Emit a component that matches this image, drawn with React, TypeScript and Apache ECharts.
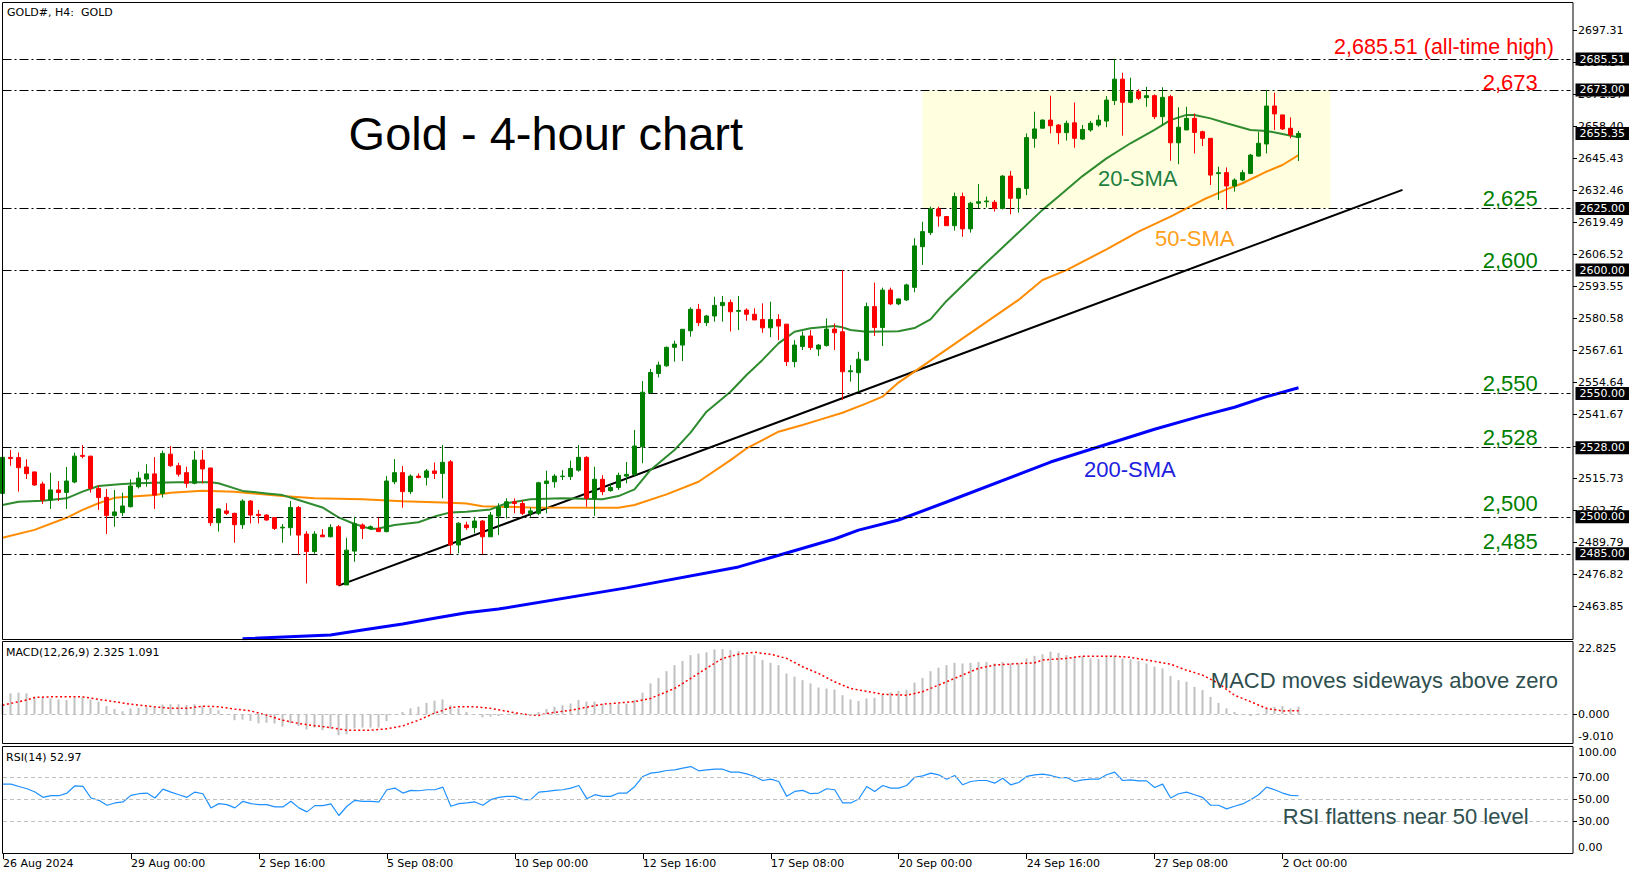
import React, { useEffect, useRef } from "react";
import * as echarts from "echarts";

// ---------- data ----------
const xLabels = ["26 Aug 2024", "29 Aug 00:00", "2 Sep 16:00", "5 Sep 08:00", "10 Sep 00:00", "12 Sep 16:00", "17 Sep 08:00", "20 Sep 00:00", "24 Sep 16:00", "27 Sep 08:00", "2 Oct 00:00"];
const barsPerLabel = 16;
const slotCount = 197;

const opens = [2509.5, 2524.1, 2524.0, 2520.2, 2518.2, 2513.3, 2506.8, 2510.9, 2509.9, 2514.1,
  2524.9, 2524.6, 2511.5, 2507.9, 2500.5, 2501.7, 2504.1, 2512.2, 2515.3, 2517.4,
  2509.5, 2525.4, 2520.7, 2517.9, 2513.6, 2523.0, 2519.8, 2497.6, 2502.4, 2501.4,
  2496.8, 2506.4, 2501.0, 2500.7, 2499.7, 2495.5, 2495.6, 2503.8, 2493.0, 2485.9,
  2492.6, 2491.9, 2496.0, 2472.4, 2486.1, 2496.7, 2495.3, 2495.3, 2494.0, 2514.2,
  2517.9, 2510.2, 2516.5, 2516.0, 2518.6, 2517.6, 2522.3, 2488.6, 2496.7, 2495.6,
  2498.3, 2491.9, 2500.3, 2503.8, 2506.1, 2505.4, 2501.4, 2501.4, 2513.5, 2514.2,
  2516.3, 2516.3, 2518.9, 2524.1, 2507.5, 2515.2, 2510.6, 2511.9, 2516.5, 2517.2,
  2528.4, 2550.3, 2558.1, 2561.2, 2568.7, 2569.6, 2575.4, 2584.1, 2578.7, 2581.4,
  2585.6, 2586.9, 2583.3, 2583.8, 2582.1, 2580.0, 2576.6, 2580.0, 2578.1, 2562.9,
  2569.0, 2573.3, 2568.0, 2569.4, 2576.1, 2575.0, 2558.8, 2558.4, 2563.5, 2585.2,
  2576.7, 2591.9, 2586.3, 2587.9, 2593.0, 2609.5, 2615.2, 2624.8, 2621.7, 2618.0,
  2629.8, 2616.7, 2627.1, 2627.7, 2627.5, 2625.0, 2638.1, 2629.1, 2633.1, 2653.4,
  2657.5, 2660.8, 2658.8, 2655.7, 2659.7, 2653.1, 2656.8, 2658.8, 2660.4, 2668.7,
  2677.4, 2668.0, 2672.3, 2669.9, 2670.7, 2662.2, 2670.3, 2651.6, 2656.8, 2661.5,
  2656.1, 2653.4, 2639.1, 2639.5, 2634.1, 2636.5, 2639.2, 2646.2, 2651.1, 2666.5,
  2662.9, 2657.5, 2653.8];

const closes = [2524.1, 2523.6, 2519.9, 2517.5, 2512.9, 2506.8, 2510.9, 2509.9, 2514.5, 2524.6,
  2524.5, 2511.5, 2507.8, 2500.5, 2502.0, 2504.4, 2512.5, 2515.7, 2517.4, 2508.8,
  2525.7, 2520.7, 2517.3, 2513.6, 2523.0, 2519.4, 2497.6, 2503.2, 2501.4, 2496.8,
  2506.4, 2500.7, 2500.5, 2498.7, 2495.3, 2495.8, 2503.8, 2492.6, 2485.9, 2493.0,
  2491.9, 2495.7, 2472.4, 2486.5, 2497.3, 2495.3, 2496.0, 2494.0, 2514.5, 2517.9,
  2510.2, 2516.5, 2515.9, 2518.6, 2517.6, 2522.1, 2488.6, 2497.4, 2495.6, 2498.3,
  2491.9, 2500.7, 2503.8, 2506.1, 2505.4, 2501.4, 2502.4, 2513.8, 2514.5, 2516.5,
  2516.5, 2519.6, 2524.1, 2507.5, 2515.2, 2510.2, 2511.9, 2516.8, 2517.2, 2528.7,
  2550.5, 2558.5, 2561.5, 2568.7, 2570.0, 2576.0, 2584.1, 2578.7, 2581.4, 2585.7,
  2586.9, 2583.1, 2583.6, 2582.1, 2579.8, 2576.6, 2580.0, 2577.3, 2562.9, 2569.6,
  2573.3, 2568.6, 2569.6, 2576.1, 2574.6, 2558.8, 2559.2, 2563.9, 2585.2, 2576.7,
  2591.9, 2586.3, 2588.3, 2594.0, 2609.8, 2615.6, 2624.8, 2621.9, 2618.0, 2629.8,
  2616.7, 2627.1, 2627.7, 2628.0, 2625.0, 2638.1, 2629.1, 2633.1, 2653.7, 2657.2,
  2660.8, 2658.5, 2655.7, 2659.5, 2653.4, 2657.0, 2659.5, 2660.8, 2668.9, 2677.4,
  2668.0, 2672.3, 2669.6, 2670.7, 2662.2, 2670.0, 2651.6, 2657.9, 2661.5, 2655.8,
  2653.4, 2638.5, 2639.5, 2634.1, 2636.5, 2639.5, 2646.6, 2651.4, 2666.5, 2663.3,
  2657.2, 2654.8, 2655.35];

const lows = [2508.0, 2520.7, 2510.2, 2515.3, 2512.6, 2505.2, 2503.2, 2506.4, 2503.2, 2513.6,
  2523.7, 2509.8, 2502.8, 2493.0, 2496.0, 2500.3, 2503.8, 2511.5, 2512.2, 2503.2,
  2507.8, 2520.3, 2516.3, 2511.8, 2513.2, 2513.6, 2496.3, 2494.0, 2500.7, 2489.5,
  2495.1, 2497.3, 2497.3, 2498.4, 2494.7, 2489.5, 2492.4, 2484.5, 2473.0, 2485.0,
  2491.9, 2491.7, 2472.1, 2472.4, 2481.8, 2491.0, 2494.8, 2494.0, 2493.7, 2513.2,
  2503.7, 2509.2, 2515.6, 2512.7, 2515.3, 2507.5, 2484.9, 2485.2, 2494.7, 2493.3,
  2484.8, 2491.9, 2492.6, 2499.4, 2501.4, 2500.7, 2500.0, 2500.7, 2501.4, 2511.8,
  2514.9, 2514.9, 2518.3, 2504.1, 2500.4, 2508.8, 2510.2, 2510.9, 2513.6, 2516.3,
  2521.7, 2550.0, 2556.5, 2560.8, 2562.9, 2563.1, 2573.0, 2577.3, 2577.3, 2579.1,
  2579.1, 2575.1, 2575.7, 2579.5, 2579.8, 2574.6, 2572.8, 2571.6, 2561.1, 2560.6,
  2567.6, 2567.6, 2565.2, 2569.0, 2567.6, 2547.3, 2554.8, 2550.7, 2563.3, 2573.3,
  2569.2, 2585.8, 2585.8, 2587.5, 2591.0, 2602.1, 2614.2, 2617.6, 2618.0, 2616.0,
  2613.5, 2615.2, 2625.0, 2625.4, 2623.7, 2624.6, 2622.6, 2623.3, 2630.4, 2649.6,
  2657.5, 2655.4, 2651.0, 2652.5, 2649.6, 2652.7, 2656.1, 2658.1, 2657.9, 2666.9,
  2654.5, 2667.6, 2668.9, 2666.2, 2661.2, 2658.4, 2644.3, 2642.9, 2656.8, 2647.3,
  2650.3, 2634.5, 2628.4, 2624.6, 2631.8, 2636.1, 2638.9, 2646.0, 2647.3, 2656.8,
  2656.8, 2653.4, 2644.2];

const highs = [2526.0, 2527.1, 2526.1, 2523.3, 2518.3, 2514.2, 2517.9, 2514.5, 2520.2, 2526.0,
  2529.1, 2524.7, 2512.9, 2511.3, 2510.9, 2509.8, 2515.2, 2518.3, 2521.3, 2524.2,
  2526.8, 2528.7, 2521.9, 2520.3, 2526.7, 2527.1, 2519.8, 2503.4, 2505.5, 2501.7,
  2507.1, 2506.8, 2502.8, 2501.1, 2499.7, 2497.1, 2506.4, 2504.4, 2494.2, 2494.2,
  2495.0, 2497.0, 2496.7, 2491.5, 2500.0, 2497.3, 2496.5, 2499.7, 2516.5, 2523.4,
  2520.6, 2517.2, 2517.6, 2519.4, 2522.0, 2529.1, 2523.0, 2497.8, 2498.0, 2500.0,
  2498.7, 2502.0, 2505.5, 2507.5, 2507.5, 2506.8, 2503.8, 2514.2, 2518.7, 2517.3,
  2518.9, 2522.8, 2529.1, 2524.6, 2520.3, 2516.9, 2513.6, 2517.9, 2522.2, 2535.2,
  2555.0, 2559.9, 2562.9, 2569.0, 2571.4, 2576.0, 2584.9, 2586.3, 2581.8, 2589.2,
  2589.5, 2588.1, 2589.5, 2584.5, 2584.5, 2586.5, 2587.2, 2582.1, 2578.1, 2571.6,
  2575.1, 2575.7, 2570.0, 2580.4, 2578.4, 2600.0, 2561.5, 2566.9, 2586.8, 2594.9,
  2592.9, 2592.9, 2588.5, 2594.5, 2612.9, 2619.6, 2625.7, 2625.7, 2621.9, 2631.4,
  2631.4, 2627.7, 2634.9, 2629.8, 2628.4, 2638.5, 2640.2, 2633.4, 2655.4, 2664.2,
  2661.1, 2670.7, 2659.2, 2660.6, 2667.9, 2658.8, 2660.4, 2662.9, 2670.5, 2685.51,
  2680.0, 2678.0, 2673.3, 2674.3, 2671.2, 2674.1, 2671.0, 2666.0, 2666.2, 2663.5,
  2656.5, 2653.4, 2641.9, 2641.6, 2637.2, 2640.6, 2647.1, 2656.1, 2673.0, 2671.9,
  2662.9, 2661.9, 2656.4];

// moving averages as [bar index, value]
const sma20 = [[0, 2504.8], [2, 2506.1], [5, 2506.5], [8, 2507.5], [10, 2510.2], [12, 2512.5], [15, 2513.3], [17, 2513.6], [19, 2513.8], [22, 2514.0], [26, 2514.0], [27, 2513.6], [30, 2510.5], [33, 2509.5], [35, 2508.8], [37, 2506.8], [40, 2503.8], [42, 2499.8], [44, 2497.1], [46, 2495.1], [47, 2495.3], [49, 2496.7], [52, 2497.8], [54, 2500.1], [56, 2501.8], [58, 2502.1], [61, 2503.0], [63, 2505.5], [66, 2507.1], [70, 2507.5], [75, 2507.1], [77, 2508.4], [79, 2511.1], [81, 2519.0], [84, 2527.1], [86, 2534.1], [88, 2542.6], [91, 2550.7], [93, 2557.5], [95, 2563.6], [97, 2570.3], [99, 2575.0], [101, 2576.4], [104, 2577.3], [105, 2576.8], [106, 2575.7], [108, 2575.0], [112, 2575.2], [114, 2576.5], [116, 2580.0], [118, 2587.5], [122, 2600.0], [126, 2612.2], [130, 2624.4], [132, 2629.8], [135, 2638.1], [138, 2645.3], [141, 2651.4], [144, 2656.8], [146, 2660.8], [148, 2662.9], [149, 2662.9], [151, 2661.5], [153, 2659.5], [156, 2656.8], [158, 2656.4], [160, 2655.2], [162, 2653.8]];
const sma50 = [[0, 2491.5], [4, 2494.7], [8, 2499.6], [10, 2502.8], [12, 2505.5], [14, 2507.7], [19, 2508.8], [21, 2509.8], [25, 2510.6], [29, 2510.2], [35, 2508.4], [39, 2507.5], [45, 2507.1], [50, 2506.3], [56, 2505.7], [58, 2505.4], [60, 2504.3], [66, 2503.8], [77, 2503.7], [79, 2504.8], [83, 2509.1], [87, 2514.2], [91, 2523.0], [93, 2527.7], [95, 2531.1], [97, 2534.5], [100, 2537.2], [102, 2539.2], [105, 2542.2], [108, 2546.0], [110, 2548.7], [112, 2554.4], [127, 2587.9], [130, 2596.0], [133, 2600.0], [138, 2608.4], [142, 2615.6], [146, 2621.7], [148, 2625.0], [150, 2628.4], [153, 2632.7], [155, 2635.2], [158, 2639.9], [160, 2642.6], [162, 2646.6]];
const sma200 = [[30, 2450.6], [41, 2452.1], [45, 2454.1], [50, 2456.6], [54, 2458.9], [58, 2461.1], [62, 2462.6], [78, 2471.2], [92, 2479.7], [104, 2491.0], [107, 2494.6], [112, 2498.7], [118, 2506.0], [131, 2522.2], [144, 2535.5], [150, 2541.0], [154, 2544.4], [158, 2548.7], [162, 2552.3]];
const trendLine = [[42, 2472.1], [175, 2632.5]];

const levels = [2685.51, 2673.0, 2625.0, 2600.0, 2550.0, 2528.0, 2500.0, 2485.0];
const lastPrice = 2655.35;
const rangeBox = { fromBar: 115, toBar: 166, top: 2673.0, bottom: 2625.0 };
const priceTicks = [2463.85, 2476.82, 2489.79, 2502.76, 2515.73, 2528.70, 2541.67, 2554.64, 2567.61, 2580.58, 2593.55, 2606.52, 2619.49, 2632.46, 2645.43, 2658.40, 2671.37, 2684.34, 2697.31];

const macdHist = [3.3, 6.5, 6.7, 6.5, 5.4, 5.2, 4.9, 4.6, 4.4, 5.2,
  5.2, 4.6, 3.9, 2.5, 1.6, 0.9, 1.8, 2.0, 2.3, 2.3,
  3.0, 3.1, 3.1, 2.8, 3.1, 2.6, 1.9, 1.2, 0.0, -1.9,
  -1.7, -2.1, -2.9, -2.7, -2.9, -3.9, -2.9, -3.7, -4.8, -4.2,
  -5.0, -4.5, -6.6, -6.3, -4.5, -4.2, -4.2, -4.2, -2.2, 0.0,
  0.7, 1.8, 2.3, 3.5, 4.2, 4.6, 2.8, 1.8, 0.7, 0.0,
  -1.0, -0.8, -0.6, 0.0, 0.2, 0.0, -0.4, 0.7, 1.6, 2.3,
  2.8, 3.3, 4.4, 3.9, 3.9, 3.1, 3.0, 3.1, 3.3, 4.4,
  6.7, 9.6, 11.3, 13.4, 15.3, 16.6, 18.4, 18.9, 19.3, 20.2,
  20.3, 20.0, 19.7, 18.6, 18.4, 16.9, 16.0, 15.3, 12.7, 11.7,
  10.6, 9.6, 8.3, 8.0, 7.7, 5.9, 4.6, 4.1, 4.9, 5.1,
  6.2, 6.8, 7.3, 7.6, 9.8, 11.3, 13.4, 14.5, 15.3, 16.0,
  15.8, 16.0, 16.3, 16.3, 15.8, 16.3, 15.8, 15.8, 17.4, 18.2,
  18.7, 19.5, 19.1, 18.4, 17.7, 18.1, 17.4, 17.2, 17.9, 18.1,
  17.4, 17.1, 16.6, 15.8, 14.8, 14.3, 11.9, 10.6, 10.1, 8.5,
  7.5, 5.4, 3.5, 1.8, 0.7, -0.3, -0.6, 0.2, 1.8, 2.3,
  2.5, 1.8, 2.325];
const macdSignal = [[0, 2.8], [3, 4.4], [4, 5.2], [6, 5.4], [10, 5.4], [12, 4.6], [14, 3.9], [16, 3.1], [19, 2.3], [21, 1.8], [23, 1.8], [25, 2.5], [27, 2.3], [29, 1.6], [31, 1.0], [33, -0.3], [35, -1.9], [37, -2.9], [39, -3.6], [41, -4.2], [43, -5.0], [46, -5.0], [48, -4.6], [50, -3.7], [52, -1.9], [54, 0.3], [56, 2.0], [57, 2.3], [59, 2.3], [61, 1.8], [63, 0.9], [65, 0.0], [67, -0.4], [68, 0.2], [71, 1.2], [75, 3.1], [79, 3.9], [81, 4.9], [84, 8.0], [86, 11.1], [88, 14.3], [90, 17.4], [92, 18.7], [94, 19.3], [96, 18.7], [98, 17.4], [100, 14.8], [102, 12.7], [104, 10.1], [106, 8.0], [109, 6.7], [110, 6.2], [113, 5.9], [115, 7.0], [118, 10.1], [120, 12.2], [122, 14.3], [124, 15.3], [127, 15.8], [129, 16.0], [130, 16.9], [133, 17.4], [135, 18.1], [139, 18.1], [141, 17.7], [143, 16.9], [146, 15.6], [148, 13.7], [150, 12.2], [152, 9.6], [154, 5.9], [156, 3.9], [158, 1.8], [160, 1.0], [162, 1.091]];
const macdRange = { min: -9.01, max: 22.825 };

const rsi = [63.5, 63.5, 61.4, 59.3, 56.3, 51.5, 53, 53, 55.4, 62,
  61.4, 50.9, 48.8, 44.3, 46.4, 47.3, 53.3, 54.8, 55.4, 50.9,
  59, 56.3, 53.9, 51.5, 56.3, 54.8, 41.9, 45.8, 44.9, 41.9,
  47.9, 45.8, 44.9, 44.9, 42.8, 42.8, 47.9, 41.9, 38.3, 44,
  44, 45.5, 35, 43.4, 48.8, 47.9, 47.9, 47.3, 58.4, 59.9,
  55.4, 57.8, 57.5, 58.4, 58.4, 60.8, 43.4, 45.8, 46.4, 47.3,
  44.3, 49.4, 51.5, 52.4, 52.4, 49.4, 49.4, 56.3, 56.9, 57.8,
  58.4, 59.9, 62.3, 50.3, 53.9, 52.4, 52.4, 55.4, 55.4, 61.4,
  70.5, 73.5, 74.4, 75.9, 76.5, 78, 79.5, 75.6, 76.5, 77.1,
  77.1, 74.4, 74.4, 72.9, 70.5, 66.8, 68, 65.9, 52.4, 56.9,
  57.8, 54.8, 55.4, 59.3, 58.4, 46.4, 46.4, 50, 61.4, 56.9,
  62.3, 59.9, 59.9, 62.3, 69.8, 71, 73.5, 72, 68, 71.4,
  62.9, 65.9, 66.8, 66.8, 64.4, 68.9, 62.9, 65, 70.5, 72,
  72.6, 71.4, 69.5, 69.5, 65.9, 67.4, 68, 68, 72, 74.4,
  66.8, 67.4, 66.5, 66.5, 60.5, 63.5, 50.9, 54.8, 56.3, 53.9,
  51.5, 44.3, 44.3, 41, 43.4, 45.5, 49.4, 53.9, 60.8, 58.4,
  55.4, 53.3, 52.97];
const rsiLevels = [30, 50, 70];

// ---------- chart ----------
const MONO = "DejaVu Sans";
const SANS = "Liberation Sans";

function txt(text: string, x: number, y: number, size: number, color: string, align = "left", family = SANS) {
  return {
    type: "text",
    x,
    y,
    silent: true,
    z: 120,
    style: {
      text,
      fill: color,
      fontSize: size,
      fontFamily: family,
      align,
      textAlign: align,
      verticalAlign: "middle",
      textVerticalAlign: "middle",
    },
  };
}

function frame(x: number, y: number, w: number, h: number) {
  return {
    type: "rect",
    silent: true,
    z: 110,
    shape: { x, y, width: w, height: h },
    style: { fill: "none", stroke: "#000", lineWidth: 1 },
  };
}

function buildOption() {
  const cats = Array.from({ length: slotCount }, (_, i) => String(i));
  const candles = opens.map((o, i) => [o, closes[i], lows[i], highs[i]]);
  const gridLeft = 2.5;
  const gridWidth = 1568;
  const showTick = (i: number) => i % barsPerLabel === 0 && i / barsPerLabel < xLabels.length;
  const baseX = (gi: number, bottom: boolean) => ({
    type: "category",
    gridIndex: gi,
    data: cats,
    boundaryGap: false,
    axisLine: { show: false },
    axisTick: bottom
      ? { show: true, length: 5, lineStyle: { color: "#000" }, interval: showTick }
      : { show: false },
    axisLabel: bottom
      ? {
          show: true,
          interval: showTick,
          formatter: (_v: string, i: number) => xLabels[Math.round(i / barsPerLabel)] || "",
          align: "left",
          margin: 4,
          color: "#000",
          fontFamily: MONO,
          fontSize: 11,
        }
      : { show: false },
    splitLine: { show: false },
  });
  const baseY = (gi: number, min: number, max: number, ticks: number[], digits: number) => ({
    type: "value",
    gridIndex: gi,
    position: "right",
    offset: 2.5,
    min,
    max,
    scale: true,
    axisLine: { show: false },
    axisTick: { show: true, length: 4, customValues: ticks, lineStyle: { color: "#000" } },
    axisLabel: {
      show: true,
      customValues: ticks,
      formatter: (v: number) => Number(v).toFixed(digits),
      margin: 5,
      color: "#000",
      fontFamily: MONO,
      fontSize: 11,
    },
    splitLine: { show: false },
  });

  const levelLine = { type: [9, 3, 2, 3], color: "#000", width: 1 };
  const levelData: any[] = levels.map((v) => ({ yAxis: v }));
  levelData.push({ yAxis: lastPrice, lineStyle: { color: "rgba(0,0,0,0)", width: 0 } });

  const greyDash = { type: [4, 3], color: "#C0C0C0", width: 1 };

  return {
    animation: false,
    backgroundColor: "#fff",
    grid: [
      { left: gridLeft, top: 2, width: gridWidth, height: 637 },
      { left: gridLeft, top: 641, width: gridWidth, height: 102 },
      { left: gridLeft, top: 744, width: gridWidth, height: 110 },
    ],
    xAxis: [baseX(0, false), baseX(1, false), baseX(2, true)],
    yAxis: [
      baseY(0, 2450.48, 2708.66, priceTicks, 2),
      baseY(1, macdRange.min, macdRange.max, [0], 3),
      baseY(2, 0, 100, rsiLevels, 2),
    ],
    series: [
      {
        type: "line",
        name: "trend",
        xAxisIndex: 0,
        yAxisIndex: 0,
        data: trendLine,
        showSymbol: false,
        z: 3,
        lineStyle: { color: "#000", width: 2 },
        markArea: {
          silent: true,
          itemStyle: { color: "#FFFFE0" },
          data: [[{ coord: [rangeBox.fromBar, rangeBox.top] }, { coord: [rangeBox.toBar, rangeBox.bottom] }]],
        },
        markLine: {
          silent: true,
          symbol: "none",
          lineStyle: levelLine,
          label: {
            show: true,
            position: "end",
            distance: 5,
            formatter: (p: any) => Number(p.value).toFixed(2),
            color: "#fff",
            backgroundColor: "#000",
            padding: [0, 4, 0, 4],
            lineHeight: 13,
            fontFamily: MONO,
            fontSize: 11,
          },
          data: levelData,
        },
      },
      {
        type: "line",
        name: "sma200",
        xAxisIndex: 0,
        yAxisIndex: 0,
        data: sma200,
        showSymbol: false,
        z: 4,
        lineStyle: { color: "#0000FF", width: 3 },
      },
      {
        type: "line",
        name: "sma50",
        xAxisIndex: 0,
        yAxisIndex: 0,
        data: sma50,
        showSymbol: false,
        z: 4,
        lineStyle: { color: "#FF8C00", width: 2 },
      },
      {
        type: "line",
        name: "sma20",
        xAxisIndex: 0,
        yAxisIndex: 0,
        data: sma20,
        showSymbol: false,
        z: 4,
        lineStyle: { color: "#2E8B2E", width: 2 },
      },
      {
        type: "candlestick",
        name: "GOLD",
        xAxisIndex: 0,
        yAxisIndex: 0,
        data: candles,
        barWidth: 5,
        z: 5,
        itemStyle: {
          color: "#008000",
          color0: "#FF0000",
          borderColor: "#008000",
          borderColor0: "#FF0000",
          borderWidth: 1,
        },
      },
      {
        type: "bar",
        name: "macd",
        xAxisIndex: 1,
        yAxisIndex: 1,
        data: macdHist,
        barWidth: 2,
        itemStyle: { color: "#C0C0C0" },
        markLine: { silent: true, symbol: "none", label: { show: false }, lineStyle: greyDash, data: [{ yAxis: 0 }] },
      },
      {
        type: "line",
        name: "signal",
        xAxisIndex: 1,
        yAxisIndex: 1,
        data: macdSignal,
        showSymbol: false,
        z: 4,
        lineStyle: { color: "#FF0000", width: 1.5, type: [2, 2.5] },
      },
      {
        type: "line",
        name: "rsi",
        xAxisIndex: 2,
        yAxisIndex: 2,
        data: rsi,
        showSymbol: false,
        z: 4,
        lineStyle: { color: "#1E90FF", width: 1.2 },
        markLine: {
          silent: true,
          symbol: "none",
          label: { show: false },
          lineStyle: greyDash,
          data: rsiLevels.map((v) => ({ yAxis: v })),
        },
      },
    ],
    graphic: [
      frame(2.5, 2.5, 1570.5, 637),
      frame(2.5, 641.5, 1570.5, 102),
      frame(2.5, 746.5, 1570.5, 107),
      txt("GOLD#, H4:\u00a0 GOLD", 7, 12, 11, "#000", "left", MONO),
      txt("MACD(12,26,9) 2.325 1.091", 6, 652, 11, "#000", "left", MONO),
      txt("RSI(14) 52.97", 6, 757, 11, "#000", "left", MONO),
      txt("22.825", 1578, 648, 11, "#000", "left", MONO),
      txt("-9.010", 1578, 736, 11, "#000", "left", MONO),
      txt("100.00", 1578, 752, 11, "#000", "left", MONO),
      txt("0.00", 1578, 847, 11, "#000", "left", MONO),
      txt("Gold - 4-hour chart", 348.6, 133, 47, "#000"),
      txt("2,685.51 (all-time high)", 1554, 47, 21.5, "#FF0000", "right"),
      txt("2,673", 1482.7, 82, 22, "#FF0000"),
      txt("2,625", 1482.7, 198, 22, "#008000"),
      txt("2,600", 1482.7, 260, 22, "#008000"),
      txt("2,550", 1482.7, 383, 22, "#008000"),
      txt("2,528", 1482.7, 437.5, 22, "#008000"),
      txt("2,500", 1482.7, 503, 22, "#008000"),
      txt("2,485", 1482.7, 541.5, 22, "#008000"),
      txt("20-SMA", 1098, 178, 22, "#1F7F3F"),
      txt("50-SMA", 1155, 238, 22, "#FFA020"),
      txt("200-SMA", 1084, 469, 22, "#2020E0"),
      txt("MACD moves sideways above zero", 1210.8, 680, 22, "#2F4F4F"),
      txt("RSI flattens near 50 level", 1282.8, 816, 22, "#2F4F4F"),
    ],
  };
}

export default function App() {
  const ref = useRef<HTMLDivElement>(null);
  useEffect(() => {
    document.body.style.margin = "0";
    const chart = echarts.init(ref.current as HTMLDivElement, null, { renderer: "svg" });
    chart.setOption(buildOption() as any);
    return () => chart.dispose();
  }, []);
  return <div ref={ref} style={{ width: 1643, height: 877, background: "#fff" }} />;
}
